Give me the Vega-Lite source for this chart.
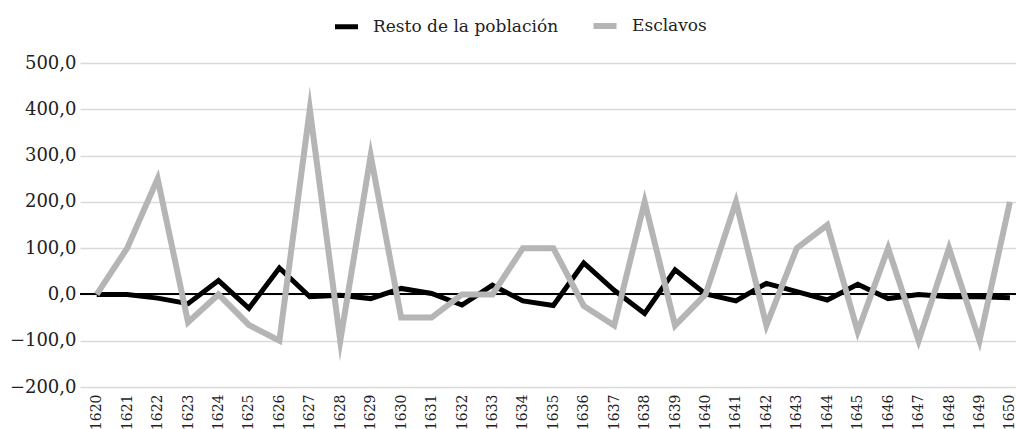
{
  "$schema": "https://vega.github.io/schema/vega-lite/v6.json",
  "autosize": {"type": "none"},
  "width": 936,
  "height": 324,
  "padding": {"left": 80, "top": 63, "right": 0, "bottom": 42},
  "background": "white",
  "config": {"view": {"stroke": null}, "font": "DejaVu Serif"},
  "data": {"values": [
    {"year": 1620, "serie": "Resto de la población", "value": 0},
    {"year": 1621, "serie": "Resto de la población", "value": 0},
    {"year": 1622, "serie": "Resto de la población", "value": -8},
    {"year": 1623, "serie": "Resto de la población", "value": -20},
    {"year": 1624, "serie": "Resto de la población", "value": 30},
    {"year": 1625, "serie": "Resto de la población", "value": -30},
    {"year": 1626, "serie": "Resto de la población", "value": 57},
    {"year": 1627, "serie": "Resto de la población", "value": -5},
    {"year": 1628, "serie": "Resto de la población", "value": -2},
    {"year": 1629, "serie": "Resto de la población", "value": -9},
    {"year": 1630, "serie": "Resto de la población", "value": 13},
    {"year": 1631, "serie": "Resto de la población", "value": 2},
    {"year": 1632, "serie": "Resto de la población", "value": -23},
    {"year": 1633, "serie": "Resto de la población", "value": 20},
    {"year": 1634, "serie": "Resto de la población", "value": -14},
    {"year": 1635, "serie": "Resto de la población", "value": -24},
    {"year": 1636, "serie": "Resto de la población", "value": 68},
    {"year": 1637, "serie": "Resto de la población", "value": 9},
    {"year": 1638, "serie": "Resto de la población", "value": -41},
    {"year": 1639, "serie": "Resto de la población", "value": 53},
    {"year": 1640, "serie": "Resto de la población", "value": 1},
    {"year": 1641, "serie": "Resto de la población", "value": -14},
    {"year": 1642, "serie": "Resto de la población", "value": 24},
    {"year": 1643, "serie": "Resto de la población", "value": 6},
    {"year": 1644, "serie": "Resto de la población", "value": -12},
    {"year": 1645, "serie": "Resto de la población", "value": 22},
    {"year": 1646, "serie": "Resto de la población", "value": -9},
    {"year": 1647, "serie": "Resto de la población", "value": 0},
    {"year": 1648, "serie": "Resto de la población", "value": -5},
    {"year": 1649, "serie": "Resto de la población", "value": -5},
    {"year": 1650, "serie": "Resto de la población", "value": -7},
    {"year": 1620, "serie": "Esclavos", "value": 0},
    {"year": 1621, "serie": "Esclavos", "value": 100},
    {"year": 1622, "serie": "Esclavos", "value": 250},
    {"year": 1623, "serie": "Esclavos", "value": -60},
    {"year": 1624, "serie": "Esclavos", "value": 0},
    {"year": 1625, "serie": "Esclavos", "value": -66},
    {"year": 1626, "serie": "Esclavos", "value": -100},
    {"year": 1627, "serie": "Esclavos", "value": 400},
    {"year": 1628, "serie": "Esclavos", "value": -100},
    {"year": 1629, "serie": "Esclavos", "value": 300},
    {"year": 1630, "serie": "Esclavos", "value": -50},
    {"year": 1631, "serie": "Esclavos", "value": -50},
    {"year": 1632, "serie": "Esclavos", "value": 0},
    {"year": 1633, "serie": "Esclavos", "value": 0},
    {"year": 1634, "serie": "Esclavos", "value": 100},
    {"year": 1635, "serie": "Esclavos", "value": 100},
    {"year": 1636, "serie": "Esclavos", "value": -25},
    {"year": 1637, "serie": "Esclavos", "value": -67},
    {"year": 1638, "serie": "Esclavos", "value": 200},
    {"year": 1639, "serie": "Esclavos", "value": -67},
    {"year": 1640, "serie": "Esclavos", "value": 0},
    {"year": 1641, "serie": "Esclavos", "value": 200},
    {"year": 1642, "serie": "Esclavos", "value": -67},
    {"year": 1643, "serie": "Esclavos", "value": 100},
    {"year": 1644, "serie": "Esclavos", "value": 150},
    {"year": 1645, "serie": "Esclavos", "value": -80},
    {"year": 1646, "serie": "Esclavos", "value": 100},
    {"year": 1647, "serie": "Esclavos", "value": -100},
    {"year": 1648, "serie": "Esclavos", "value": 100},
    {"year": 1649, "serie": "Esclavos", "value": -100},
    {"year": 1650, "serie": "Esclavos", "value": 200}
  ]},
  "encoding": {
    "x": {
      "field": "year", "type": "quantitative",
      "scale": {"domain": [1619.45, 1650.2], "nice": false, "zero": false},
      "axis": {
        "title": null, "values": [1620,1621,1622,1623,1624,1625,1626,1627,1628,1629,1630,1631,1632,1633,1634,1635,1636,1637,1638,1639,1640,1641,1642,1643,1644,1645,1646,1647,1648,1649,1650],
        "format": "d", "labelAngle": 270, "labelFontSize": 14, "labelColor": "#222222",
        "labelPadding": 7, "ticks": false, "domain": false, "grid": false, "labelOverlap": false,
        "labelFont": "DejaVu Serif", "labelBound": false, "labelFlush": false
      }
    }
  },
  "layer": [
    {
      "mark": {"type": "rule", "color": "#000000", "strokeWidth": 1},
      "encoding": {"y": {"datum": 0, "type": "quantitative", "scale": {"domain": [-200, 500], "nice": false}}, "x": null}
    },
    {
      "mark": {"type": "line", "strokeJoin": "miter", "strokeMiterLimit": 10},
      "encoding": {
        "y": {
          "field": "value", "type": "quantitative",
          "scale": {"domain": [-200, 500], "nice": false},
          "axis": {
            "title": null, "values": [-200,-100,0,100,200,300,400,500],
            "labelExpr": "replace(format(datum.value, '.1f'), '.', ',')",
            "labelFontSize": 18, "labelColor": "#222222", "labelPadding": 4,
            "ticks": false, "domain": false, "grid": true, "gridColor": "#d9d9d9", "gridWidth": 1.5,
            "labelFont": "DejaVu Serif"
          }
        },
        "color": {
          "field": "serie", "type": "nominal",
          "scale": {"domain": ["Resto de la población", "Esclavos"], "range": ["#000000", "#b5b5b5"]},
          "legend": {
            "title": null, "orient": "none", "legendX": 252, "legendY": -52, "direction": "horizontal",
            "symbolType": "stroke", "symbolSize": 530, "symbolStrokeWidth": 6,
            "labelFontSize": 17, "labelColor": "#222222", "labelFont": "DejaVu Serif",
            "labelOffset": 12, "columnPadding": 22, "labelLimit": 400
          }
        },
        "strokeWidth": {
          "field": "serie", "type": "nominal",
          "scale": {"domain": ["Resto de la población", "Esclavos"], "range": [5, 6]},
          "legend": null
        }
      }
    }
  ]
}
